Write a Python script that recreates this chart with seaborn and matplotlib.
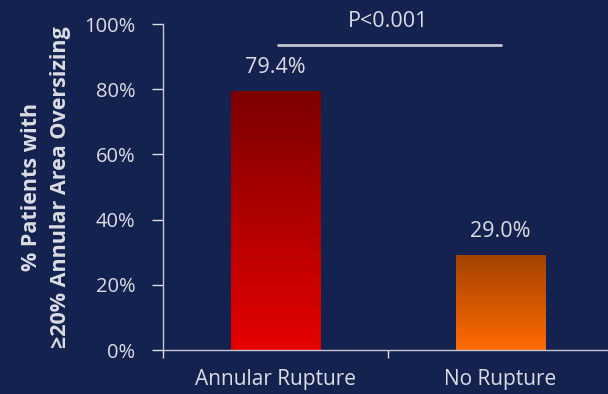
import numpy as np
import pandas as pd
import matplotlib
matplotlib.use("Agg")
import matplotlib.pyplot as plt
import seaborn as sns
from matplotlib.colors import LinearSegmentedColormap

categories = ["Annular Rupture", "No Rupture"]
values = [79.4, 29.0]
value_labels = ["79.4%", "29.0%"]
yticks = [0, 20, 40, 60, 80, 100]
ytick_labels = ["0%", "20%", "40%", "60%", "80%", "100%"]
p_text = "P<0.001"

bg = "#14224f"
fg = "#dcdce4"
gradients = [("#7c0000", "#e60000"), ("#a44200", "#ff6a00")]

sns.set_theme(style="white")
plt.rcParams["font.family"] = ["Open Sans", "DejaVu Sans"]

fig = plt.figure(figsize=(6.08, 3.94), dpi=100, facecolor=bg)
ax = fig.add_axes([163 / 608, (394 - 350) / 394, 450 / 608, 326 / 394])
ax.set_facecolor(bg)

df = pd.DataFrame({"cat": categories, "val": values})
sns.barplot(data=df, x="cat", y="val", width=0.4, color=bg, ax=ax)

ax.set_xlim(-0.5, 1.5)
ax.set_ylim(0, 100)

# vertical gradient fill for each bar, clipped to the bar shape
for patch, (top, bottom) in zip(ax.patches, gradients):
    x0, y0 = patch.get_x(), patch.get_y()
    w, h = patch.get_width(), patch.get_height()
    cmap = LinearSegmentedColormap.from_list("g", [bottom, top])
    grad = np.linspace(0, 1, 256).reshape(-1, 1)
    im = ax.imshow(grad, cmap=cmap, origin="lower", aspect="auto",
                   extent=[x0, x0 + w, y0, y0 + h], zorder=2)
    im.set_clip_path(patch)
    patch.set_edgecolor("none")

ax.set_xlim(-0.5, 1.5)
ax.set_ylim(0, 100)

for i, (v, lab) in enumerate(zip(values, value_labels)):
    ax.text(i, v + 4, lab, ha="center", va="bottom", color=fg, fontsize=15.5)

# significance bracket
ax.plot([0.01, 1.0], [93.5, 93.5], color="#c4c6d2", lw=2, clip_on=False)
ax.text(0.5, 97.5, p_text, ha="center", va="bottom", color=fg, fontsize=15.5)

ax.set_yticks(yticks)
ax.set_yticklabels(ytick_labels)
ax.set_xticks([0, 1])
ax.set_xticklabels(categories)
ax.set_xticks([-0.5, 0.5], minor=True)
ax.tick_params(axis="y", colors=fg, labelsize=14.5, length=8, width=1, direction="out", left=True, pad=12)
ax.tick_params(axis="x", which="major", colors=fg, labelsize=15, length=0, pad=14)
ax.tick_params(axis="x", which="minor", colors=fg, length=6, width=1, bottom=True)
for lab in ax.get_xticklabels() + ax.get_yticklabels():
    lab.set_color(fg)

sns.despine(ax=ax, top=True, right=True)
ax.spines["left"].set_color("#c8c8d4")
ax.spines["bottom"].set_color("#c8c8d4")
ax.spines["left"].set_linewidth(1)
ax.spines["bottom"].set_linewidth(1)
ax.set_xlabel("")
ax.set_ylabel("% Patients with\n≥20% Annular Area Oversizing", color=fg,
              fontsize=15.5, fontweight="bold", linespacing=1.5)
ax.yaxis.set_label_coords(-92 / 450, 0.5)

fig.savefig("out.png", dpi=100, facecolor=bg)
